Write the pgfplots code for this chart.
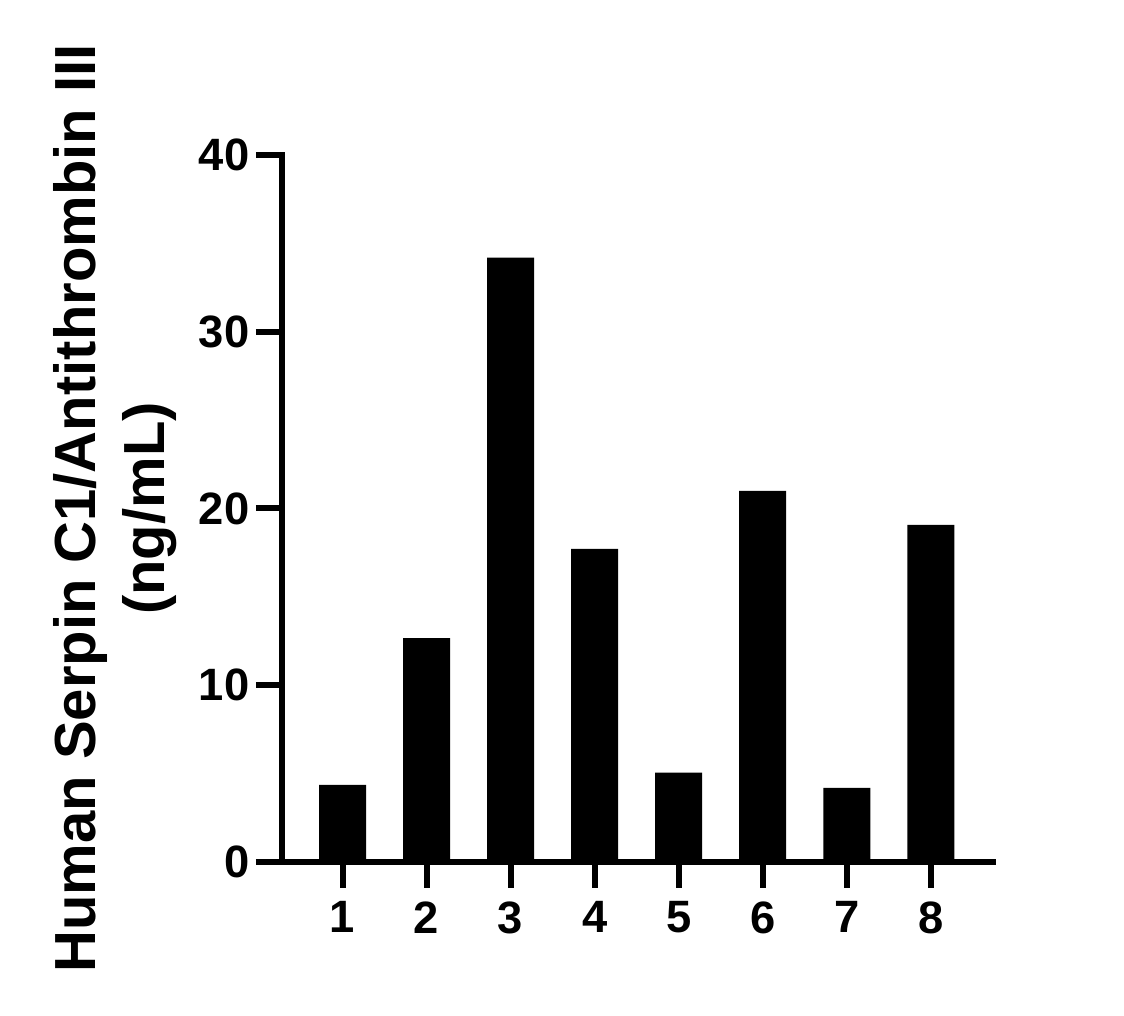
\documentclass[border=0pt]{standalone}
\usepackage{fontspec}
\setmainfont{Liberation Sans}
\usepackage{pgfplots}
\pgfplotsset{compat=1.18}
\begin{document}
\begin{tikzpicture}
\useasboundingbox (0,0) rectangle (843pt,762pt);
\begin{axis}[
  at={(211.5pt,115.5pt)}, anchor=south west,
  scale only axis, width=533.25pt, height=530.25pt,
  xmin=0.28, xmax=8.74, ymin=0, ymax=40,
  axis lines=left, axis line style={-, line width=4.5pt, line cap=rect},
  axis on top,
  xtick={1,2,3,4,5,6,7,8}, ytick={0,10,20,30,40},
  tick align=outside, major tick length=19.5pt,
  every tick/.style={black, line width=4.5pt},
  /pgf/number format/assume math mode=true,
  tick label style={font=\fontsize{34}{40}\selectfont\bfseries},
  xticklabel style={yshift=-6.5pt},
  yticklabel style={xshift=-1.5pt},
  ylabel={Human Serpin C1/Antithrombin III\\(ng/mL)},
  ylabel style={at={(axis description cs:-0.234,0.5)}, anchor=center, align=center,
    font=\fontsize{43.5}{51.75}\selectfont\bfseries},
  clip=false,
]
\addplot[ybar, bar width=35.25pt, fill=black, draw=none] coordinates {
  (1,4.36) (2,12.67) (3,34.19) (4,17.71) (5,5.05) (6,20.99) (7,4.19) (8,19.07)
};
\end{axis}
\end{tikzpicture}
\end{document}
